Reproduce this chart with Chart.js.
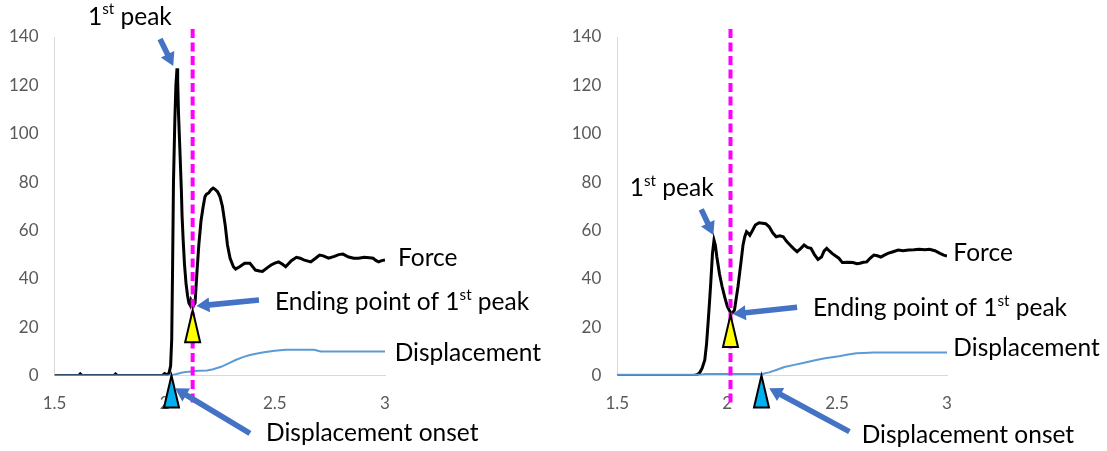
<!DOCTYPE html>
<html>
<head>
<meta charset="utf-8">
<script src="https://cdn.jsdelivr.net/npm/chart.js@4/dist/chart.umd.min.js"></script>
<style>
  html, body { margin: 0; padding: 0; background: #fff; }
  #wrap { position: relative; width: 1107px; height: 451px; }
  canvas { position: absolute; top: 0; }
  #leftChart { left: 0; }
  #rightChart { left: 553px; }
</style>
</head>
<body>
<div id="wrap">
  <canvas id="leftChart" width="553" height="451"></canvas>
  <canvas id="rightChart" width="554" height="451"></canvas>
</div>
<script>
// axis ticks
const xTickValues = [1.5, 2, 2.5, 3];
const yTickValues = [0, 20, 40, 60, 80, 100, 120, 140];

// left trial: force and displacement over time
const leftForceX = [1.5, 1.61, 1.617, 1.625, 1.77, 1.777, 1.785, 1.99, 2.0, 2.01,
    2.02, 2.027, 2.032, 2.036, 2.04, 2.046, 2.051, 2.056, 2.059, 2.063,
    2.068, 2.072, 2.076, 2.079, 2.084, 2.09, 2.097, 2.104, 2.11, 2.116,
    2.12, 2.125, 2.13, 2.138, 2.146, 2.155, 2.165, 2.175, 2.183, 2.19,
    2.2, 2.21, 2.22, 2.229, 2.24, 2.251, 2.262, 2.275, 2.285, 2.297,
    2.312, 2.322, 2.34, 2.363, 2.387, 2.412, 2.43, 2.444, 2.465, 2.483,
    2.5, 2.517, 2.535, 2.549, 2.575, 2.598, 2.615, 2.631, 2.663, 2.685,
    2.703, 2.72, 2.744, 2.77, 2.79, 2.809, 2.835, 2.858, 2.88, 2.906,
    2.93, 2.946, 2.96, 2.971, 2.985, 3.0];
const leftForceY = [0, 0, 0.7, 0, 0, 0.6, 0, 0, 0.8, 0.3,
    1, 4, 15, 45, 80, 105, 120, 127, 122, 108,
    96, 86, 76, 66, 56, 46, 38, 33, 30, 29,
    31, 30, 28.8, 30, 42, 54, 64, 70, 74, 75,
    75.5, 76.8, 77.5, 77, 76, 74, 70, 62, 54, 48.5,
    45, 44, 45, 46.4, 46.4, 43.6, 43.2, 43, 44.5, 45.7,
    46.5, 47, 46, 45, 47.5, 48.9, 48.5, 47.8, 47, 48.5,
    49.8, 49.5, 48.5, 49.3, 50, 50.2, 49, 48.5, 48.5, 48.9,
    48.7, 48.5, 47.5, 47, 47.5, 47.8];
const leftDispX = [1.5, 2.03, 2.05, 2.08, 2.111, 2.15, 2.192, 2.22, 2.256, 2.29,
    2.322, 2.355, 2.387, 2.42, 2.451, 2.5, 2.549, 2.6, 2.678, 2.7, 2.71, 3.0];
const leftDispY = [0, 0, 0.5, 1.2, 1.6, 2, 2.1, 2.6, 3.6, 5,
    6.4, 7.6, 8.5, 9.1, 9.6, 10.2, 10.6, 10.7, 10.6, 10.1, 9.9, 9.9];
const leftPeakEnd = { x: 2.127, y: 27 };
const leftOnset = { x: 2.031, y: 0 };

// right trial
const rightForceX = [1.5, 1.85, 1.862, 1.874, 1.886, 1.898, 1.906, 1.914, 1.92, 1.925,
    1.933, 1.94, 1.946, 1.953, 1.965, 1.977, 1.99, 2.001, 2.017, 2.025,
    2.033, 2.049, 2.064, 2.072, 2.08, 2.088, 2.096, 2.103, 2.115, 2.128,
    2.145, 2.16, 2.175, 2.191, 2.207, 2.223, 2.24, 2.255, 2.27, 2.286,
    2.302, 2.318, 2.334, 2.35, 2.365, 2.381, 2.397, 2.413, 2.429, 2.441,
    2.453, 2.465, 2.477, 2.492, 2.508, 2.524, 2.55, 2.572, 2.59, 2.604,
    2.62, 2.635, 2.65, 2.667, 2.683, 2.699, 2.715, 2.731, 2.755, 2.778,
    2.8, 2.825, 2.85, 2.873, 2.9, 2.92, 2.945, 2.968, 2.985, 3.0];
const rightForceY = [0, 0, 0.3, 1, 3, 6.4, 13, 23, 31, 38,
    50.5, 56, 54, 49, 42, 36.7, 32, 28.5, 25.7, 26,
    27, 36.7, 47.8, 54, 57.4, 59.5, 58.8, 58, 60, 62.2,
    63.2, 63, 62.8, 61.5, 59, 57.4, 57.8, 57.4, 55.5, 54,
    52.5, 51.2, 52.5, 54, 53, 52.6, 50, 48, 49, 51.5,
    52.6, 51.5, 50.5, 49.5, 48.5, 46.7, 46.8, 46.7, 46.2, 46.4,
    46.8, 47, 48.5, 49.8, 49.5, 49, 49.8, 50.5, 51.2, 51.9,
    51.6, 51.9, 52, 52.2, 52, 52.2, 51.6, 50.5, 49.8, 49.4];
const rightDispX = [1.5, 1.88, 1.9, 2.16, 2.19, 2.223, 2.26, 2.3, 2.35, 2.4,
    2.445, 2.508, 2.55, 2.588, 2.62, 2.667, 3.0];
const rightDispY = [0.3, 0.3, 0.6, 0.6, 1.3, 2.3, 3.5, 4.3, 5.3, 6.3,
    7.1, 8, 8.7, 9.2, 9.3, 9.5, 9.5];
const rightPeakEnd = { x: 2.015, y: 25 };
const rightOnset = { x: 2.156, y: 0 };

// callouts, placed in axis units
const leftNotes = {
    labels: [
        { parts: [['1'], ['st', true], [' peak']], x: 1.652, y: 148.3 },
        { parts: [['Force']], x: 3.059, y: 48.6 },
        { parts: [['Ending point of 1'], ['st', true], [' peak']], x: 2.501, y: 30.4 },
        { parts: [['Displacement']], x: 3.044, y: 9.3 },
        { parts: [['Displacement onset']], x: 2.46, y: -23.8 }
    ],
    arrows: [
        [1.979, 139.2, 2.039, 128.0],
        [2.428, 31.2, 2.144, 28.7],
        [2.387, -23.9, 2.047, -5.3]
    ]
};
const rightNotes = {
    labels: [
        { parts: [['1'], ['st', true], [' peak']], x: 1.557, y: 77.5 },
        { parts: [['Force']], x: 3.029, y: 50.7 },
        { parts: [['Ending point of 1'], ['st', true], [' peak']], x: 2.39, y: 27.9 },
        { parts: [['Displacement']], x: 3.029, y: 11.4 },
        { parts: [['Displacement onset']], x: 2.612, y: -24.6 }
    ],
    arrows: [
        [1.882, 68.7, 1.937, 58.1],
        [2.318, 28.2, 2.025, 25.4],
        [2.556, -23.2, 2.191, -5.3]
    ]
};
const dashTop = 143.3;
const dashBottom = -11.8;

const NOTE_FONT = 'Lato, "Open Sans", sans-serif';
const NOTE_SIZE = 24.5;

function zip(xs, ys) {
    return xs.map((x, i) => ({ x: x, y: ys[i] }));
}

function drawTriangle(ctx, x, y, fill) {
    ctx.beginPath();
    ctx.moveTo(x, y);
    ctx.lineTo(x + 7.5, y + 32);
    ctx.lineTo(x - 7.5, y + 32);
    ctx.closePath();
    ctx.fillStyle = fill;
    ctx.fill();
    ctx.lineWidth = 2;
    ctx.strokeStyle = '#000';
    ctx.lineJoin = 'miter';
    ctx.stroke();
}

function drawArrow(ctx, x1, y1, x2, y2) {
    const ang = Math.atan2(y2 - y1, x2 - x1);
    const len = Math.hypot(x2 - x1, y2 - y1);
    const head = 13, hw = 7.5, sw = 2.8;
    ctx.save();
    ctx.translate(x1, y1);
    ctx.rotate(ang);
    ctx.fillStyle = '#4472c4';
    ctx.beginPath();
    ctx.moveTo(0, -sw);
    ctx.lineTo(len - head, -sw);
    ctx.lineTo(len - head, -hw);
    ctx.lineTo(len, 0);
    ctx.lineTo(len - head, hw);
    ctx.lineTo(len - head, sw);
    ctx.lineTo(0, sw);
    ctx.closePath();
    ctx.fill();
    ctx.restore();
}

function drawNote(ctx, parts, x, y) {
    ctx.fillStyle = '#000';
    ctx.textAlign = 'left';
    ctx.textBaseline = 'middle';
    let cx = x;
    parts.forEach(([txt, sup]) => {
        const size = sup ? NOTE_SIZE * 0.62 : NOTE_SIZE;
        ctx.font = size + 'px ' + NOTE_FONT;
        ctx.fillText(txt, cx, sup ? y - NOTE_SIZE * 0.3 : y);
        cx += ctx.measureText(txt).width;
    });
}

// dashed line, triangles, arrows and captions
const callouts = {
    id: 'callouts',
    afterDatasetsDraw(chart, args, opts) {
        const ctx = chart.ctx;
        const xs = chart.scales.x;
        const ys = chart.scales.y;
        const px = v => xs.getPixelForValue(v);
        const py = v => ys.getPixelForValue(v);
        ctx.save();

        ctx.strokeStyle = '#ff00ff';
        ctx.lineWidth = 4;
        ctx.setLineDash([9, 4.5]);
        ctx.beginPath();
        ctx.moveTo(px(opts.peakEnd.x), py(dashTop));
        ctx.lineTo(px(opts.peakEnd.x), py(dashBottom));
        ctx.stroke();
        ctx.setLineDash([]);

        drawTriangle(ctx, px(opts.peakEnd.x), py(opts.peakEnd.y), '#ffff00');
        drawTriangle(ctx, px(opts.onset.x), py(opts.onset.y), '#00b0f0');

        opts.notes.arrows.forEach(a => {
            drawArrow(ctx, px(a[0]), py(a[1]), px(a[2]), py(a[3]));
        });
        opts.notes.labels.forEach(l => {
            drawNote(ctx, l.parts, px(l.x), py(l.y));
        });
        ctx.restore();
    }
};

function makeChart(id, forceX, forceY, dispX, dispY, peakEnd, onset, notes, padLeft, padRight) {
    return new Chart(document.getElementById(id), {
        type: 'scatter',
        data: {
            datasets: [{
                label: 'Displacement',
                data: zip(dispX, dispY),
                showLine: true,
                borderColor: '#5b9bd5',
                borderWidth: 2,
                pointRadius: 0,
                tension: 0
            }, {
                label: 'Force',
                data: zip(forceX, forceY),
                showLine: true,
                borderColor: '#000',
                borderWidth: 3,
                pointRadius: 0,
                tension: 0
            }]
        },
        options: {
            responsive: false,
            animation: false,
            events: [],
            layout: { padding: { left: padLeft, right: padRight, top: 37, bottom: 35.5 } },
            plugins: {
                legend: { display: false },
                tooltip: { enabled: false },
                callouts: { peakEnd: peakEnd, onset: onset, notes: notes }
            },
            scales: {
                x: {
                    type: 'linear',
                    min: 1.5,
                    max: 3,
                    afterBuildTicks: s => { s.ticks = xTickValues.map(v => ({ value: v })); },
                    afterFit: s => { s.height = 40; },
                    grid: { display: false, drawTicks: false },
                    border: { display: true, color: '#d9d9d9', width: 1 },
                    ticks: {
                        padding: 18,
                        color: '#595959',
                        font: { family: 'Lato', size: 17 },
                        callback: v => String(v)
                    }
                },
                y: {
                    min: 0,
                    max: 140,
                    afterBuildTicks: s => { s.ticks = yTickValues.map(v => ({ value: v })); },
                    afterFit: s => { s.width = 54; },
                    grid: { display: false, drawTicks: false },
                    border: { display: true, color: '#d9d9d9', width: 1 },
                    ticks: {
                        padding: 16,
                        color: '#595959',
                        font: { family: 'Lato', size: 17 }
                    }
                }
            }
        },
        plugins: [callouts]
    });
}

makeChart('leftChart', leftForceX, leftForceY, leftDispX, leftDispY,
    leftPeakEnd, leftOnset, leftNotes, 0.5, 168);
makeChart('rightChart', rightForceX, rightForceY, rightDispX, rightDispY,
    rightPeakEnd, rightOnset, rightNotes, 10.3, 160);
</script>
</body>
</html>
